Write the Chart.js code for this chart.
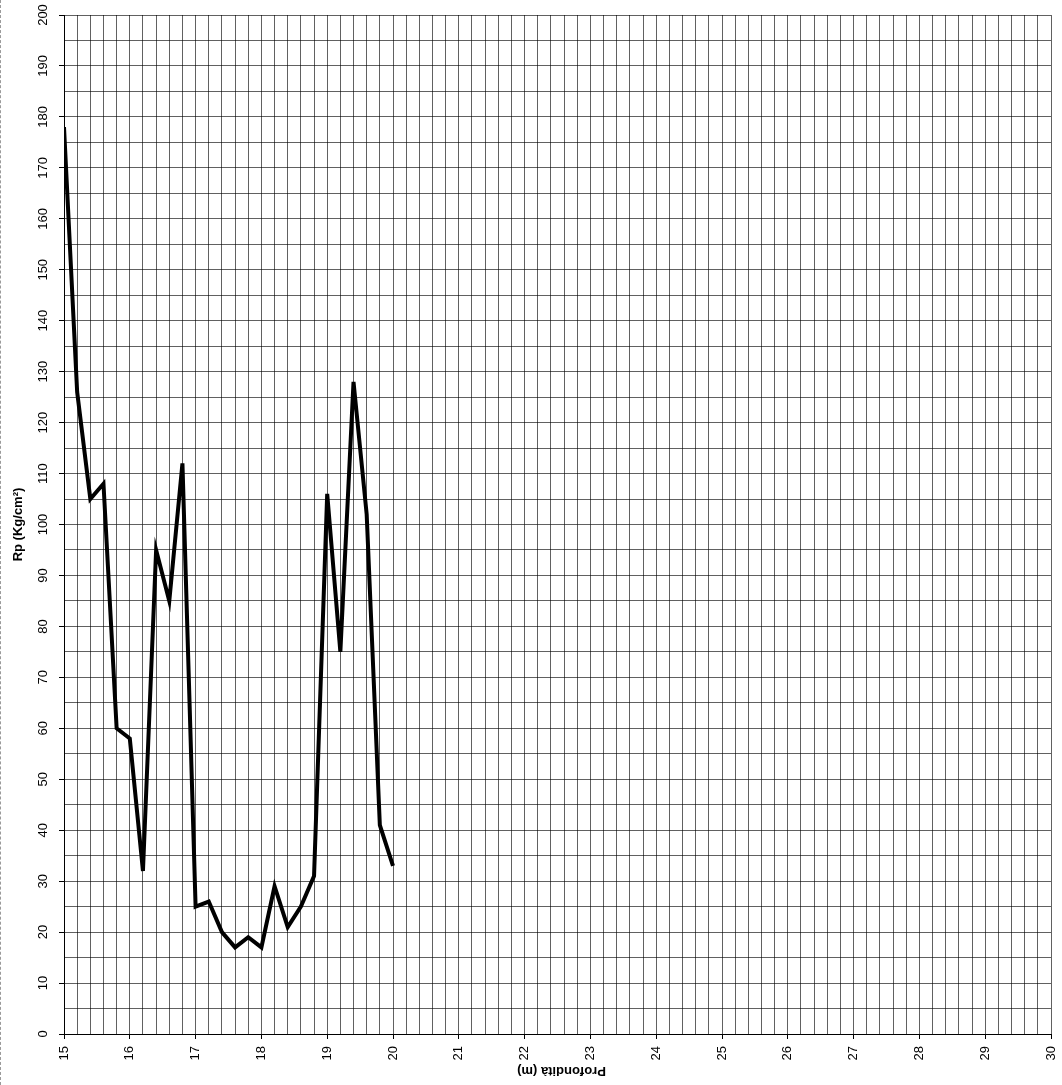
<!DOCTYPE html>
<html>
<head>
<meta charset="utf-8">
<script src="https://cdn.jsdelivr.net/npm/chart.js@4.4.0/dist/chart.umd.min.js"></script>
<style>
	html, body { margin: 0; padding: 0; background: #fff; }
	#wrap { position: relative; width: 1062px; height: 1085px; box-sizing: border-box; border-left: 1px dashed #9a9a9a; }
</style>
</head>
<body>
<div id="wrap"><canvas id="rp-chart"></canvas></div>
<script>
var depths = [15.0, 15.2, 15.4, 15.6, 15.8, 16.0, 16.2, 16.4, 16.6, 16.8, 17.0, 17.2, 17.4,
	17.6, 17.8, 18.0, 18.2, 18.4, 18.6, 18.8, 19.0, 19.2, 19.4, 19.6, 19.8, 20.0];
var rpValues = [178, 126, 105, 108, 60, 58, 32, 95, 85, 112, 25, 26, 20,
	17, 19, 17, 29, 21, 25, 31, 106, 75, 128, 102, 41, 33];
var depthRange = [15, 30];
var rpRange = [0, 200];
var xTitle = 'Profondità (m)';
var yTitle = 'Rp (Kg/cm²)';

var font = '"Liberation Sans", Arial, sans-serif';
var gridColor = 'rgba(0, 0, 0, 0.62)';

function isWhole(v) {
	return Math.abs(v - Math.round(v)) < 1e-6;
}

// title under the x axis is printed upside down in the original
var flippedTitle = {
	id: 'flippedTitle',
	afterDraw: function (chart) {
		var ctx = chart.ctx;
		var area = chart.chartArea;
		ctx.save();
		ctx.translate((area.left + area.right) / 2 + 4, 1071);
		ctx.rotate(Math.PI);
		ctx.font = 'bold 13px ' + font;
		ctx.fillStyle = '#000';
		ctx.textAlign = 'center';
		ctx.textBaseline = 'middle';
		ctx.fillText(xTitle, 0, 0);
		ctx.restore();
	}
};

var points = depths.map(function (d, i) {
	return { x: d, y: rpValues[i] };
});

var rpChart = new Chart(document.getElementById('rp-chart'), {
	type: 'line',
	data: {
		datasets: [{
			label: 'Rp',
			data: points,
			borderColor: '#000',
			borderWidth: 4,
			borderJoinStyle: 'miter',
			pointRadius: 0,
			tension: 0,
			fill: false
		}]
	},
	options: {
		responsive: true,
		maintainAspectRatio: false,
		animation: false,
		layout: { padding: { top: 15, right: 0, bottom: 0, left: 0 } },
		plugins: {
			legend: { display: false },
			tooltip: { enabled: false }
		},
		scales: {
			x: {
				type: 'linear',
				min: depthRange[0],
				max: depthRange[1],
				afterFit: function (scale) {
					scale.height = 51;
					scale.paddingRight = 11;
				},
				border: { color: '#000', width: 1 },
				grid: {
					color: gridColor,
					lineWidth: 1,
					tickLength: 5,
					tickColor: function (c) {
						return isWhole(c.tick.value) ? '#000' : 'rgba(0,0,0,0)';
					}
				},
				ticks: {
					stepSize: 0.2,
					autoSkip: false,
					minRotation: 90,
					maxRotation: 90,
					padding: 7,
					color: '#000',
					font: { family: font, size: 13 },
					callback: function (v) { return isWhole(v) ? String(Math.round(v)) : ''; }
				}
			},
			y: {
				min: rpRange[0],
				max: rpRange[1],
				afterFit: function (scale) { scale.width = 63; },
				border: { color: '#000', width: 1 },
				grid: {
					color: gridColor,
					lineWidth: 1,
					tickLength: 5,
					tickColor: function (c) {
						return c.tick.value % 10 === 0 ? '#000' : 'rgba(0,0,0,0)';
					}
				},
				ticks: {
					stepSize: 5,
					autoSkip: false,
					minRotation: 90,
					maxRotation: 90,
					crossAlign: 'center',
					padding: 5,
					color: '#000',
					font: { family: font, size: 13 },
					callback: function (v) { return v % 10 === 0 ? String(v) : ''; }
				},
				title: {
					display: true,
					text: yTitle,
					color: '#000',
					font: { family: font, size: 13, weight: 'bold' },
					padding: { top: 10, bottom: 0 }
				}
			}
		}
	},
	plugins: [flippedTitle]
});
</script>
</body>
</html>
